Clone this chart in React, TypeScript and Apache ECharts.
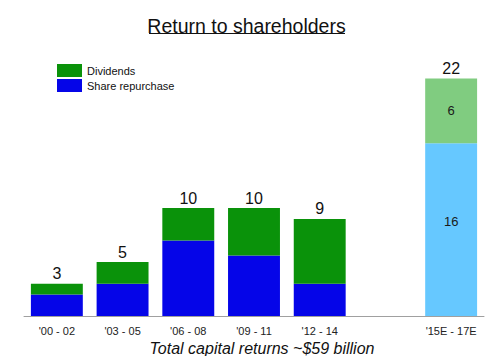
import React, { useEffect, useRef } from "react";
import * as echarts from "echarts";

const categories = ["'00 - 02", "'03 - 05", "'06 - 08", "'09 - 11", "'12 - 14", "", "'15E - 17E"];
const repurchase: (number | null)[] = [2, 3, 7, 5.6, 3, null, 16];
const dividends: (number | null)[] = [1, 2, 3, 4.4, 6, null, 6];
const totals: (number | null)[] = [3, 5, 10, 10, 9, null, 22];
const estimateIndex = 6;

const FONT = "Arial, 'Liberation Sans', sans-serif";

export default function App() {
  const ref = useRef<HTMLDivElement>(null);
  useEffect(() => {
    if (!ref.current) return;
    const chart = echarts.init(ref.current, null, { renderer: "svg" });
    const repData = repurchase.map((v, i) =>
      i === estimateIndex
        ? { value: v, itemStyle: { color: "#66c8ff" }, label: { show: true, position: "inside", offset: [0, -8], color: "#1a1a1a", fontSize: 13, fontFamily: FONT } }
        : { value: v }
    );
    const divData = dividends.map((v, i) =>
      i === estimateIndex
        ? { value: v, itemStyle: { color: "#80cc80" }, label: { show: true, position: "inside", color: "#1a1a1a", fontSize: 13, fontFamily: FONT } }
        : { value: v }
    );
    chart.setOption({
      animation: false,
      title: {
        text: "Return to shareholders",
        left: "center",
        top: 11,
        textStyle: { fontSize: 19.5, fontWeight: "normal", color: "#111", fontFamily: FONT },
      },
      graphic: [
        { type: "rect", shape: { x: 149, y: 33, width: 196, height: 1 }, style: { fill: "#111" } },
        {
          type: "text",
          x: 262,
          y: 348,
          style: {
            text: "Total capital returns ~$59 billion",
            fontSize: 16,
            fontStyle: "italic",
            fontFamily: FONT,
            fill: "#111",
            textAlign: "center",
            textVerticalAlign: "middle",
          },
        },
      ],
      legend: {
        orient: "vertical",
        left: 52,
        top: 59,
        itemWidth: 25,
        itemHeight: 13,
        itemGap: 2,
        icon: "rect",
        data: ["Dividends", "Share repurchase"],
        textStyle: { fontSize: 11, color: "#111", fontFamily: FONT },
      },
      grid: { left: 24, right: 9, top: 57, bottom: 48 },
      xAxis: {
        type: "category",
        data: categories,
        axisLine: { lineStyle: { color: "#a0a0a0" } },
        axisTick: { show: false },
        axisLabel: { color: "#222", fontSize: 11, fontFamily: FONT, margin: 9, interval: 0 },
      },
      yAxis: { type: "value", min: 0, max: 24, show: false, splitLine: { show: false } },
      series: [
        {
          name: "Share repurchase",
          type: "bar",
          stack: "total",
          barWidth: "79%",
          itemStyle: { color: "#0505e8" },
          data: repData,
        },
        {
          name: "Dividends",
          type: "bar",
          stack: "total",
          barWidth: "79%",
          itemStyle: { color: "#0a920a" },
          data: divData,
        },
        {
          name: "Total",
          type: "bar",
          stack: "total",
          barWidth: "79%",
          data: totals.map(() => 0),
          itemStyle: { color: "transparent" },
          label: {
            show: true,
            position: "top",
            distance: 2,
            fontSize: 16,
            color: "#111",
            fontFamily: FONT,
            formatter: (p: any) => (totals[p.dataIndex] == null ? "" : String(totals[p.dataIndex])),
          },
          silent: true,
        },
      ],
    });
    return () => chart.dispose();
  }, []);
  return <div ref={ref} style={{ width: 493, height: 364, margin: -8 }} />;
}
